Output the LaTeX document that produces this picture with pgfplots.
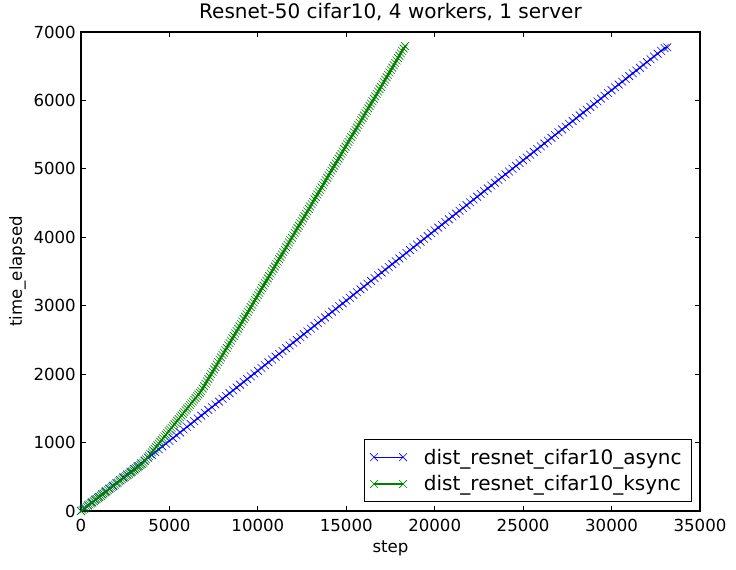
\documentclass[border=0pt]{standalone}
\usepackage{fontspec}
\setmainfont{DejaVu Sans}
\usepackage{pgfplots}
\pgfplotsset{compat=1.18}
\definecolor{mplblue}{RGB}{0,0,255}
\definecolor{mplgreen}{RGB}{0,128,0}
\begin{document}
\begin{tikzpicture}
\begin{axis}[
  name=ax,
  scale only axis, width=619pt, height=479pt,
  xmin=0, xmax=35000, ymin=0, ymax=7000,
  xtick={0,5000,...,35000}, ytick={0,1000,...,7000},
  scaled ticks=false,
  /pgf/number format/1000 sep={},
  /pgf/number format/assume math mode=true,
  tick align=inside, major tick length=5pt, minor tick num=0,
  axis line style={line width=1.1pt},
  every tick/.style={black, line width=0.8pt},
  tick label style={font=\fontsize{16.6}{20}\selectfont, inner sep=0pt},
  xticklabel style={yshift=-8pt},
  yticklabel style={xshift=-5pt},
  xlabel={step}, ylabel={time\_elapsed},
  xlabel style={font=\fontsize{16.6}{20}\selectfont, at={([yshift=-30pt]axis description cs:0.5,0)}, anchor=north, inner sep=0pt},
  ylabel style={font=\fontsize{16.6}{20}\selectfont, at={([xshift=-55pt]axis description cs:0,0.5)}, anchor=south, inner sep=0pt},
  title={Resnet-50 cifar10, 4 workers, 1 server},
  title style={font=\fontsize{20}{24}\selectfont, at={([yshift=7pt]axis description cs:0.5,1)}, anchor=base, inner sep=0pt},
  legend style={at={(1,0)}, anchor=south east, xshift=-8pt, yshift=9pt, draw=black, line width=1pt,
    font=\fontsize{20}{24}\selectfont, inner xsep=6pt, inner ysep=4pt,
    nodes={inner xsep=4pt, inner ysep=5.1pt},
    /tikz/every odd column/.append style={column sep=13pt}, row sep=0pt},
  legend cell align=left,
  legend image code/.code={\draw[#1] plot coordinates {(0pt,0pt) (29pt,0pt)};},
]
\addplot[mplblue, line width=1.3pt, mark=x, mark size=5.5pt, mark options={solid, line width=0.6pt}] coordinates {
(0,0) (200,41) (400,82) (600,123) (800,164) (1000,205) (1200,246) (1400,287) (1600,328) (1800,369)
(2000,410) (2200,451) (2400,492) (2600,533) (2800,574) (3000,615) (3200,656) (3400,697) (3600,738) (3800,779)
(4000,820) (4200,861) (4400,902) (4600,943) (4800,984) (5000,1025) (5200,1066) (5400,1107) (5600,1148) (5800,1189)
(6000,1230) (6200,1271) (6400,1312) (6600,1353) (6800,1394) (7000,1435) (7200,1476) (7400,1517) (7600,1558) (7800,1599)
(8000,1640) (8200,1681) (8400,1722) (8600,1763) (8800,1804) (9000,1845) (9200,1886) (9400,1927) (9600,1968) (9800,2009)
(10000,2050) (10200,2091) (10400,2132) (10600,2173) (10800,2214) (11000,2255) (11200,2296) (11400,2337) (11600,2378) (11800,2419)
(12000,2460) (12200,2501) (12400,2542) (12600,2583) (12800,2624) (13000,2665) (13200,2706) (13400,2747) (13600,2788) (13800,2829)
(14000,2870) (14200,2911) (14400,2952) (14600,2993) (14800,3034) (15000,3075) (15200,3116) (15400,3157) (15600,3198) (15800,3239)
(16000,3280) (16200,3321) (16400,3362) (16600,3403) (16800,3444) (17000,3485) (17200,3526) (17400,3567) (17600,3608) (17800,3649)
(18000,3690) (18200,3731) (18400,3772) (18600,3813) (18800,3854) (19000,3895) (19200,3936) (19400,3977) (19600,4018) (19800,4059)
(20000,4100) (20200,4141) (20400,4182) (20600,4223) (20800,4264) (21000,4305) (21200,4346) (21400,4387) (21600,4428) (21800,4469)
(22000,4510) (22200,4551) (22400,4592) (22600,4633) (22800,4674) (23000,4715) (23200,4756) (23400,4797) (23600,4838) (23800,4879)
(24000,4920) (24200,4961) (24400,5002) (24600,5043) (24800,5084) (25000,5125) (25200,5166) (25400,5207) (25600,5248) (25800,5289)
(26000,5330) (26200,5371) (26400,5412) (26600,5453) (26800,5494) (27000,5535) (27200,5576) (27400,5617) (27600,5658) (27800,5699)
(28000,5740) (28200,5781) (28400,5822) (28600,5863) (28800,5904) (29000,5945) (29200,5986) (29400,6027) (29600,6068) (29800,6109)
(30000,6150) (30200,6191) (30400,6232) (30600,6273) (30800,6314) (31000,6355) (31200,6396) (31400,6437) (31600,6478) (31800,6519)
(32000,6560) (32200,6601) (32400,6642) (32600,6683) (32800,6724) (33000,6765) (33150,6776)
};
\addlegendentry{dist\_resnet\_cifar10\_async}
\addplot[mplgreen, line width=1.3pt, mark=x, mark size=5.5pt, mark options={solid, line width=0.6pt}] coordinates {
(0,0) (80,16) (160,32) (240,48) (320,64) (400,80) (480,96) (560,112) (640,128) (720,144)
(800,160) (880,176) (960,192) (1040,208) (1120,224) (1200,240) (1280,256) (1360,272) (1440,288) (1520,304)
(1600,320) (1680,336) (1760,352) (1840,368) (1920,384) (2000,400) (2080,416) (2160,432) (2240,448) (2320,464)
(2400,480) (2480,496) (2560,512) (2640,528) (2720,544) (2800,560) (2880,576) (2960,592) (3040,608) (3120,624)
(3200,640) (3280,656) (3360,672) (3440,688) (3520,704)
(3600,730) (3680,755) (3760,781) (3840,806) (3920,832) (4000,858) (4080,883) (4160,909) (4240,934) (4320,960)
(4400,986) (4480,1011) (4560,1037) (4640,1062) (4720,1088) (4800,1114) (4880,1139) (4960,1165) (5040,1190) (5120,1216)
(5200,1242) (5280,1267) (5360,1293) (5440,1318) (5520,1344) (5600,1370) (5680,1395) (5760,1421) (5840,1446) (5920,1472)
(6000,1498) (6080,1523) (6160,1549) (6240,1574) (6320,1600) (6400,1626) (6480,1651) (6560,1677) (6640,1702) (6720,1728)
(6800,1754)
(6880,1789) (6960,1824) (7040,1859) (7120,1894) (7200,1929) (7280,1964) (7360,1999) (7440,2034) (7520,2069) (7600,2104)
(7680,2139) (7760,2174) (7840,2209) (7920,2244) (8000,2279) (8080,2314) (8160,2349) (8240,2384) (8320,2419) (8400,2454)
(8480,2489) (8560,2524) (8640,2559) (8720,2594) (8800,2629) (8880,2664) (8960,2699) (9040,2734) (9120,2769) (9200,2804)
(9280,2839) (9360,2874) (9440,2909) (9520,2944) (9600,2979) (9680,3014) (9760,3049) (9840,3084) (9920,3119) (10000,3154)
(10080,3189) (10160,3224) (10240,3259) (10320,3294) (10400,3329) (10480,3364) (10560,3399) (10640,3434) (10720,3469) (10800,3504)
(10880,3539) (10960,3574) (11040,3609) (11120,3644) (11200,3679) (11280,3714) (11360,3749) (11440,3784) (11520,3819) (11600,3854)
(11680,3889) (11760,3924) (11840,3959) (11920,3994) (12000,4029) (12080,4064) (12160,4099) (12240,4134) (12320,4169) (12400,4204)
(12480,4239) (12560,4274) (12640,4309) (12720,4344) (12800,4379) (12880,4414) (12960,4449) (13040,4484) (13120,4519) (13200,4554)
(13280,4589) (13360,4624) (13440,4659) (13520,4694) (13600,4729) (13680,4764) (13760,4799) (13840,4834) (13920,4869) (14000,4904)
(14080,4939) (14160,4974) (14240,5009) (14320,5044) (14400,5079) (14480,5114) (14560,5149) (14640,5184) (14720,5219) (14800,5254)
(14880,5289) (14960,5324) (15040,5359) (15120,5394) (15200,5429) (15280,5464) (15360,5499) (15440,5534) (15520,5569) (15600,5604)
(15680,5639) (15760,5674) (15840,5709) (15920,5744) (16000,5779) (16080,5814) (16160,5849) (16240,5884) (16320,5919) (16400,5954)
(16480,5989) (16560,6024) (16640,6059) (16720,6094) (16800,6129) (16880,6164) (16960,6199) (17040,6234) (17120,6269) (17200,6304)
(17280,6339) (17360,6374) (17440,6409) (17520,6444) (17600,6479) (17680,6514) (17760,6549) (17840,6584) (17920,6619) (18000,6654)
(18080,6689) (18160,6724) (18240,6759) (18320,6794)
};
\addlegendentry{dist\_resnet\_cifar10\_ksync}
\end{axis}
\path ([shift={(-81pt,-59pt)}]ax.south west) rectangle ([shift={(36pt,32pt)}]ax.north east);
\end{tikzpicture}
\end{document}
